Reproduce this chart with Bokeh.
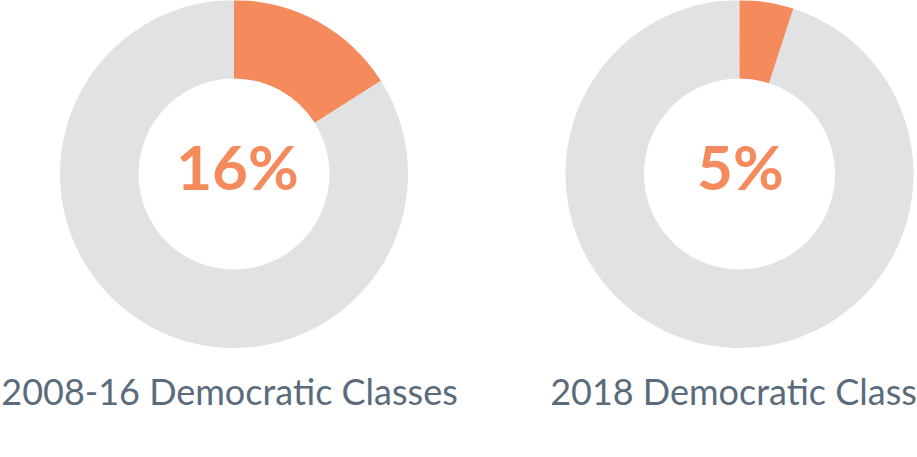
import math
from bokeh.plotting import figure
from bokeh.models import Range1d, ColumnDataSource
from bokeh.core.properties import value
from bokeh.embed import file_html
from bokeh.resources import INLINE

# data
labels = ["2008-16 Democratic Classes", "2018 Democratic Class"]
shares = [16, 5]          # percent
pct_text = ["16%", "5%"]

ORANGE = "#F58B5D"
GREY = "#E1E2E3"
SLATE = "#5A6C7C"

W, H = 917, 457
WIN_H = 457

p = figure(width=W, height=H, output_backend="svg", toolbar_location=None,
           x_range=Range1d(0, W), y_range=Range1d(WIN_H - H, WIN_H),
           min_border=0, outline_line_color=None)
p.axis.visible = False
p.grid.visible = False
p.background_fill_color = "white"
p.border_fill_color = "white"

cx = [233.5, 739.0]
cy_screen = 173.5
cy = [WIN_H - cy_screen] * 2
r_out, r_in = 174, 95.5

start_o, end_o, start_g, end_g = [], [], [], []
for s in shares:
    a0 = math.pi / 2 - s / 100 * 2 * math.pi
    start_o.append(a0)
    end_o.append(math.pi / 2)
    start_g.append(math.pi / 2)
    end_g.append(a0 + 2 * math.pi)

src = ColumnDataSource(dict(x=cx, y=cy, so=start_o, eo=end_o, sg=start_g, eg=end_g,
                            lab=labels, pct=pct_text,
                            ly=[WIN_H - 390] * 2, py=[WIN_H - 165] * 2,
                            lx=[229, 733], px=[237, 740]))

p.annular_wedge(x="x", y="y", inner_radius=r_in, outer_radius=r_out,
                start_angle="sg", end_angle="eg", fill_color=GREY, line_color=None, source=src)
p.annular_wedge(x="x", y="y", inner_radius=r_in, outer_radius=r_out,
                start_angle="so", end_angle="eo", fill_color=ORANGE, line_color=None, source=src)

p.text(x="px", y="py", text="pct", source=src, text_font=value("Lato"), text_font_style="bold",
       text_font_size="62px", text_color=ORANGE, text_align="center", text_baseline="middle")
p.text(x="lx", y="ly", text="lab", source=src, text_font=value("Lato"),
       text_font_size="36px", text_color=SLATE, text_align="center", text_baseline="middle")

open("out.html", "w").write(file_html(p, INLINE))
